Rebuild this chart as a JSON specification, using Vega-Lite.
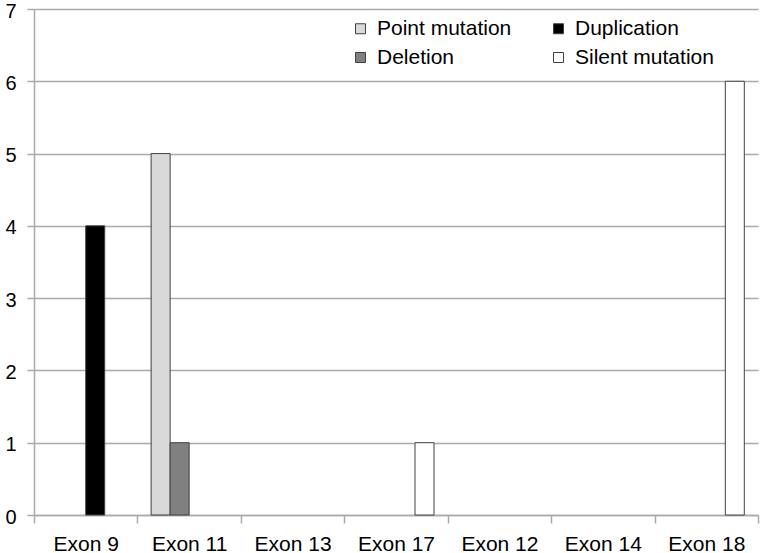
{
  "$schema": "https://vega.github.io/schema/vega-lite/v6.json",
  "autosize": {"type": "none"},
  "width": 724,
  "height": 506,
  "padding": {"left": 34, "top": 9, "right": 3, "bottom": 38},
  "background": "white",
  "data": {
    "values": [
      {"exon": "Exon 9", "type": "Duplication", "count": 4},
      {"exon": "Exon 11", "type": "Point mutation", "count": 5},
      {"exon": "Exon 11", "type": "Deletion", "count": 1},
      {"exon": "Exon 17", "type": "Silent mutation", "count": 1},
      {"exon": "Exon 18", "type": "Silent mutation", "count": 6}
    ]
  },
  "mark": {"type": "bar", "stroke": "#404040", "strokeWidth": 1},
  "encoding": {
    "x": {
      "field": "exon",
      "type": "nominal",
      "scale": {
        "domain": ["Exon 9", "Exon 11", "Exon 13", "Exon 17", "Exon 12", "Exon 14", "Exon 18"],
        "paddingInner": 0,
        "paddingOuter": 0
      },
      "axis": {
        "title": null,
        "labelAngle": 0,
        "tickBand": "extent",
        "tickSize": 8,
        "tickColor": "#aaaaaa",
        "tickWidth": 1.5,
        "domainColor": "#aaaaaa",
        "domainWidth": 1.5,
        "labelFont": "Liberation Sans",
        "labelFontSize": 21,
        "labelColor": "#000000",
        "labelPadding": 10
      }
    },
    "xOffset": {
      "field": "type",
      "type": "nominal",
      "scale": {
        "domain": ["Point mutation", "Deletion", "Duplication", "Silent mutation"],
        "paddingInner": 0,
        "paddingOuter": 0.72
      }
    },
    "y": {
      "field": "count",
      "type": "quantitative",
      "scale": {"domain": [0, 7], "nice": false},
      "axis": {
        "title": null,
        "values": [0, 1, 2, 3, 4, 5, 6, 7],
        "grid": true,
        "gridColor": "#aaaaaa",
        "gridWidth": 1.5,
        "tickColor": "#aaaaaa",
        "tickWidth": 1.5,
        "tickSize": 7,
        "domainColor": "#aaaaaa",
        "domainWidth": 1.5,
        "labelFont": "Liberation Sans",
        "labelFontSize": 20,
        "labelColor": "#000000",
        "labelPadding": 11,
        "labelOffset": 2
      }
    },
    "color": {
      "field": "type",
      "type": "nominal",
      "scale": {
        "domain": ["Point mutation", "Deletion", "Duplication", "Silent mutation"],
        "range": ["#d9d9d9", "#808080", "#000000", "#ffffff"]
      },
      "legend": {
        "title": null,
        "orient": "none",
        "legendX": 316,
        "legendY": 9,
        "columns": 2,
        "columnPadding": 36,
        "rowPadding": 7,
        "padding": 0,
        "symbolType": "square",
        "symbolSize": 100,
        "symbolStrokeColor": "#404040",
        "symbolStrokeWidth": 1,
        "labelFont": "Liberation Sans",
        "labelFontSize": 21,
        "labelColor": "#000000",
        "labelOffset": 6
      }
    }
  },
  "config": {"view": {"stroke": null}}
}
